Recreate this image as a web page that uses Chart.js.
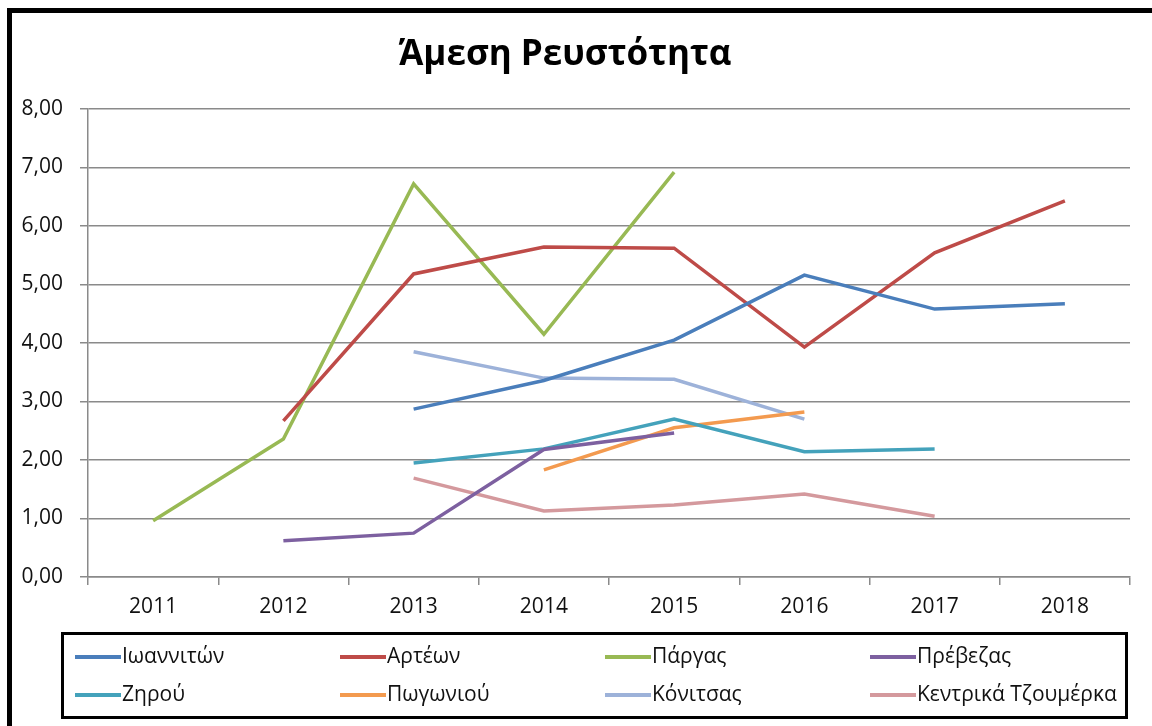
<!DOCTYPE html>
<html>
<head>
<meta charset="utf-8">
<script src="https://cdn.jsdelivr.net/npm/chart.js@4/dist/chart.umd.min.js"></script>
<style>
  html, body { margin: 0; padding: 0; background: #fff; overflow: hidden; width: 1152px; height: 726px; }
  #wrap { position: absolute; left: 0; top: 0; width: 1152px; height: 726px; overflow: hidden; }
  #frame { position: absolute; left: 7px; top: 8px; width: 1200px; height: 800px; border: 5px solid #000; box-sizing: border-box; pointer-events: none; }
  canvas { position: absolute; left: 0; top: 0; }
</style>
</head>
<body>
<div id="wrap">
  <canvas id="c" width="1152" height="726"></canvas>
  <div id="frame"></div>
</div>
<script>
const years = ['2011', '2012', '2013', '2014', '2015', '2016', '2017', '2018'];
const yTickLabels = ['0,00', '1,00', '2,00', '3,00', '4,00', '5,00', '6,00', '7,00', '8,00'];
const chartTitle = 'Άμεση Ρευστότητα';

const seriesNames = ['Ιωαννιτών', 'Αρτέων', 'Πάργας', 'Πρέβεζας', 'Ζηρού', 'Πωγωνιού', 'Κόνιτσας', 'Κεντρικά Τζουμέρκα'];

const ioannitwn = [null, null, 2.87, 3.36, 4.05, 5.16, 4.58, 4.67];
const artewn    = [null, 2.67, 5.18, 5.64, 5.62, 3.93, 5.54, 6.43];
const pargas    = [0.96, 2.36, 6.72, 4.15, 6.92, null, null, null];
const prevezas  = [null, 0.62, 0.75, 2.18, 2.46, null, null, null];
const zirou     = [null, null, 1.95, 2.19, 2.70, 2.14, 2.19, null];
const pogoniou  = [null, null, null, 1.83, 2.55, 2.82, null, null];
const konitsas  = [null, null, 3.85, 3.40, 3.38, 2.70, null, null];
const tzoumerka = [null, null, 1.69, 1.13, 1.23, 1.42, 1.04, null];

const seriesValues = [ioannitwn, artewn, pargas, prevezas, zirou, pogoniou, konitsas, tzoumerka];
const seriesColors = ['#4A7EBB', '#BE4B48', '#98B954', '#7D60A0', '#44A2BB', '#F39A4F', '#9DB2D9', '#D4999D'];

const FONT = "'Open Sans', 'Noto Sans', sans-serif";

const legendPlugin = {
  id: 'gridLegend',
  afterDraw(chart) {
    const ctx = chart.ctx;
    ctx.save();
    ctx.strokeStyle = '#000';
    ctx.lineWidth = 3;
    ctx.strokeRect(62.5, 633.5, 1064, 84);
    const cols = [75, 340, 605, 870];
    const rows = [657, 695];
    ctx.font = "21px " + FONT;
    ctx.textBaseline = 'middle';
    ctx.textAlign = 'left';
    chart.data.datasets.forEach((ds, i) => {
      const cx = cols[i % 4];
      const cy = rows[Math.floor(i / 4)];
      ctx.strokeStyle = ds.borderColor;
      ctx.lineWidth = 4;
      ctx.beginPath();
      ctx.moveTo(cx, cy);
      ctx.lineTo(cx + 46, cy);
      ctx.stroke();
      ctx.fillStyle = '#111';
      ctx.fillText(ds.label, cx + 47, cy);
    });
    ctx.restore();
  }
};

const datasets = seriesNames.map((name, i) => ({
  label: name,
  data: seriesValues[i],
  borderColor: seriesColors[i],
  backgroundColor: seriesColors[i],
  borderWidth: 3.5,
  pointRadius: 0,
  pointHoverRadius: 0,
  tension: 0,
  spanGaps: false,
  fill: false
}));

new Chart(document.getElementById('c'), {
  type: 'line',
  data: { labels: years, datasets: datasets },
  plugins: [legendPlugin],
  options: {
    responsive: false,
    animation: false,
    devicePixelRatio: 1,
    layout: { padding: { left: 0, right: 22, top: 0, bottom: 0 } },
    plugins: {
      legend: { display: false },
      tooltip: { enabled: false },
      title: {
        display: true,
        text: chartTitle,
        color: '#000',
        font: { family: FONT, size: 35, weight: 'bold', lineHeight: 1.2 },
        padding: { top: 34, bottom: 33 }
      }
    },
    scales: {
      x: {
        type: 'category',
        offset: true,
        afterFit(s) { s.height = 149; },
        grid: {
          display: true,
          offset: true,
          drawOnChartArea: false,
          drawTicks: true,
          tickLength: 8,
          color: '#8a8a8a',
          lineWidth: 1.5
        },
        border: { display: true, color: '#8a8a8a', width: 1.5 },
        ticks: {
          color: '#111',
          font: { family: FONT, size: 21 },
          padding: 9,
          maxRotation: 0
        }
      },
      y: {
        min: 0,
        max: 8,
        afterFit(s) { s.width = 88; },
        grid: {
          color: '#8a8a8a',
          lineWidth: 1.5,
          drawTicks: true,
          tickLength: 8
        },
        border: { display: true, color: '#8a8a8a', width: 1.5 },
        ticks: {
          stepSize: 1,
          color: '#111',
          font: { family: FONT, size: 21 },
          padding: 17,
          callback: (v, idx) => yTickLabels[idx]
        }
      }
    }
  }
});
</script>
</body>
</html>
